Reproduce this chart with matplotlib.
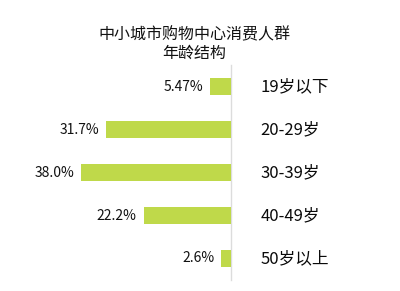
import matplotlib
matplotlib.use("Agg")
import matplotlib.pyplot as plt

plt.rcParams['font.family'] = ['Noto Sans CJK SC', 'DejaVu Sans']

title = "中小城市购物中心消费人群\n年龄结构"
categories = ["19岁以下", "20-29岁", "30-39岁", "40-49岁", "50岁以上"]
values = [5.47, 31.7, 38.0, 22.2, 2.6]
value_labels = ["5.47%", "31.7%", "38.0%", "22.2%", "2.6%"]

W, H = 400, 291
fig = plt.figure(figsize=(W / 100, H / 100), dpi=100)
ax_right_px = 231.5
ax = fig.add_axes([0, 0, ax_right_px / W, 1])
px_per_unit = 3.95
ax.set_xlim(ax_right_px / px_per_unit, 0)
spacing = 43.0
first_center = 86.5
ax.set_ylim((H - first_center) / spacing, -first_center / spacing)
ax.axis('off')

ypos = list(range(len(categories)))
ax.barh(ypos, values, height=0.41, color='#BFD94A', zorder=2)
ax.plot([0, 0], [-0.49, 4.51], color='#dcdcdc', lw=1.0, zorder=1, clip_on=False)

for i, (v, lab, cat) in enumerate(zip(values, value_labels, categories)):
    ax.annotate(lab, xy=(v, i), xytext=(-7, 0), textcoords='offset pixels',
                ha='right', va='center', fontsize=10, color='#111111',
                fontweight='medium', annotation_clip=False)
    ax.annotate(cat, xy=(0, i), xytext=(29, 0), textcoords='offset pixels',
                ha='left', va='center', fontsize=12, color='#0a0a0a',
                fontweight='medium', annotation_clip=False)

fig.text(194 / W, 1 - 44 / H, title, ha='center', va='center',
         multialignment='center', fontsize=11.5, color='#111111',
         fontweight='medium', linespacing=1.1)

fig.savefig("out.png", dpi=100, facecolor='white')
